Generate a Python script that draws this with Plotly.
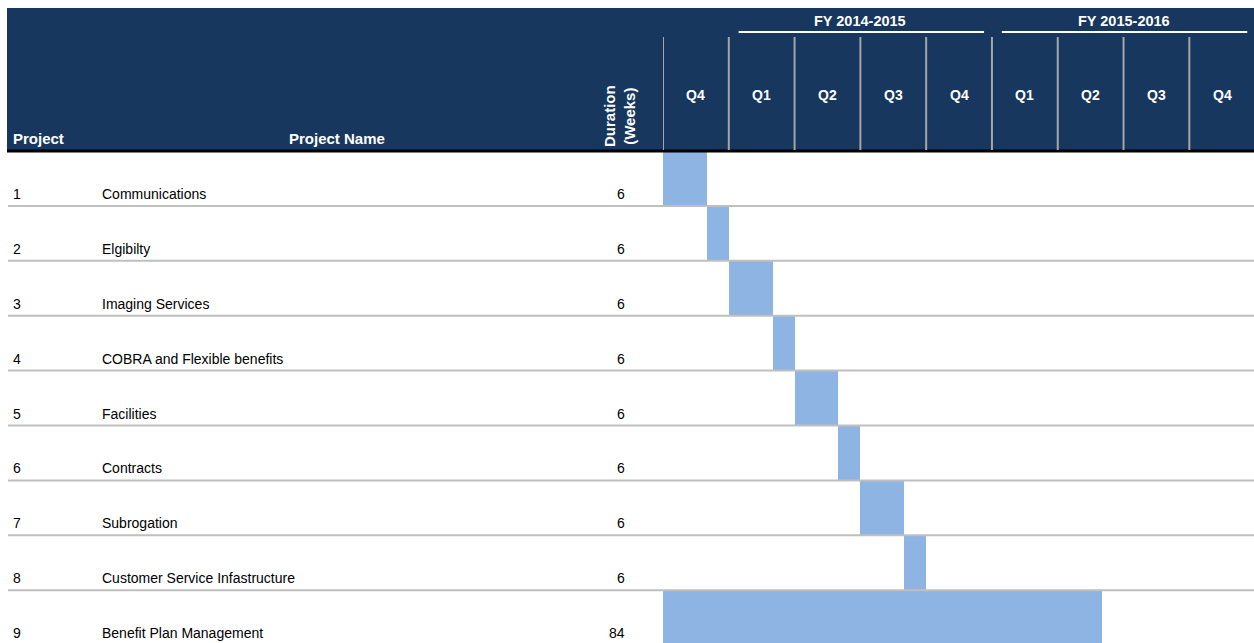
import plotly.graph_objects as go

# table data
projects = [1, 2, 3, 4, 5, 6, 7, 8, 9]
project_names = [
    "Communications",
    "Elgibilty",
    "Imaging Services",
    "COBRA and Flexible benefits",
    "Facilities",
    "Contracts",
    "Subrogation",
    "Customer Service Infastructure",
    "Benefit Plan Management",
]
durations = [6, 6, 6, 6, 6, 6, 6, 6, 84]

# gantt bars, in months from the start of the first Q4 column
start_month = [0, 2, 3, 5, 6, 8, 9, 11, 0]
length_month = [2, 1, 2, 1, 2, 1, 2, 1, 20]

quarters = ["Q4", "Q1", "Q2", "Q3", "Q4", "Q1", "Q2", "Q3", "Q4"]
fiscal_years = ["FY 2014-2015", "FY 2015-2016"]
fy_first_quarter = [1, 5]

W, H = 1254, 643
NAVY = "#17375e"
BAR = "#8eb4e3"
SEP = "#bfbfbf"
FONT = "Liberation Sans, Arial, sans-serif"

gantt_left = 663
month_px = 21.93
header_bottom = 151
row_px = 54.9

n = len(projects)
fig = go.Figure()

fig.add_trace(go.Bar(
    y=[i + 0.5 for i in range(n)],
    x=length_month,
    base=start_month,
    orientation="h",
    width=1,
    marker=dict(color=BAR, line=dict(width=0)),
    hoverinfo="skip",
    showlegend=False,
))


# helpers: pixel -> paper fraction
def px(x):
    return x / W


def py(y):
    return 1 - y / H


shapes = []
annotations = []

# header block
shapes.append(dict(type="rect", xref="paper", yref="paper",
                   x0=px(7), x1=1, y0=py(150), y1=py(8),
                   fillcolor=NAVY, line=dict(width=0), layer="below"))
shapes.append(dict(type="line", xref="paper", yref="paper",
                   x0=px(7), x1=1, y0=py(151), y1=py(151),
                   line=dict(color="black", width=3)))

# quarter dividers in the header
for q in range(len(quarters)):
    shapes.append(dict(type="line", xref="x", yref="paper",
                       x0=q * 3, x1=q * 3, y0=py(150), y1=py(37),
                       line=dict(color="#a6a6a6", width=2)))
    annotations.append(dict(x=q * 3 + 1.5, xref="x", y=py(95), yref="paper",
                            yanchor="middle", text="<b>" + quarters[q] + "</b>",
                            showarrow=False, font=dict(color="white", size=14, family=FONT)))

# fiscal year titles and underlines
for fy, q0 in zip(fiscal_years, fy_first_quarter):
    shapes.append(dict(type="line", xref="x", yref="paper",
                       x0=q0 * 3 + 0.45, x1=(q0 + 4) * 3 - 0.36, y0=py(32), y1=py(32),
                       line=dict(color="white", width=2)))
    annotations.append(dict(x=q0 * 3 + 6, xref="x", y=py(21), yref="paper",
                            yanchor="middle", text="<b>" + fy + "</b>", showarrow=False,
                            font=dict(color="white", size=14.5, family=FONT)))

# left header labels
annotations.append(dict(x=px(11), y=py(149), xref="paper", yref="paper",
                        xanchor="left", yanchor="bottom", text="<b>Project</b>",
                        showarrow=False, font=dict(color="white", size=15, family=FONT)))
annotations.append(dict(x=px(337), y=py(149), xref="paper", yref="paper",
                        xanchor="center", yanchor="bottom", text="<b>Project Name</b>",
                        showarrow=False, font=dict(color="white", size=15, family=FONT)))
annotations.append(dict(x=px(619), y=py(149), xref="paper", yref="paper",
                        xanchor="center", yanchor="bottom", textangle=-90,
                        text="<b>Duration<br>(Weeks)</b>", showarrow=False,
                        font=dict(color="white", size=15, family=FONT)))

# rows: separators and text
for i in range(n):
    shapes.append(dict(type="line", xref="paper", yref="y",
                       x0=px(8), x1=1, y0=i + 1, y1=i + 1,
                       line=dict(color=SEP, width=2), layer="above"))
    base_y = py(header_bottom + (i + 1) * row_px - 2)
    f = dict(color="black", size=14, family=FONT)
    annotations.append(dict(x=px(11), y=base_y, xref="paper", yref="paper",
                            xanchor="left", yanchor="bottom",
                            text=str(projects[i]), showarrow=False, font=f))
    annotations.append(dict(x=px(100), y=base_y, xref="paper", yref="paper",
                            xanchor="left", yanchor="bottom",
                            text=project_names[i], showarrow=False, font=f))
    annotations.append(dict(x=px(627), y=base_y, xref="paper", yref="paper",
                            xanchor="right", yanchor="bottom",
                            text=str(durations[i]), showarrow=False, font=f))

fig.update_layout(
    width=W, height=H,
    margin=dict(l=0, r=0, t=0, b=0),
    paper_bgcolor="white",
    plot_bgcolor="white",
    shapes=shapes,
    annotations=annotations,
    bargap=0,
    xaxis=dict(domain=[px(gantt_left), 1], range=[0, (W - gantt_left) / month_px],
               showgrid=False, zeroline=False, showticklabels=False, fixedrange=True),
    yaxis=dict(domain=[0, py(header_bottom)], range=[(H - header_bottom) / row_px, 0],
               showgrid=False, zeroline=False, showticklabels=False, fixedrange=True),
)

fig.write_html("out.html", config={"displayModeBar": False},
               post_script="document.body.style.margin = '0'; document.body.style.overflow = 'hidden';")
